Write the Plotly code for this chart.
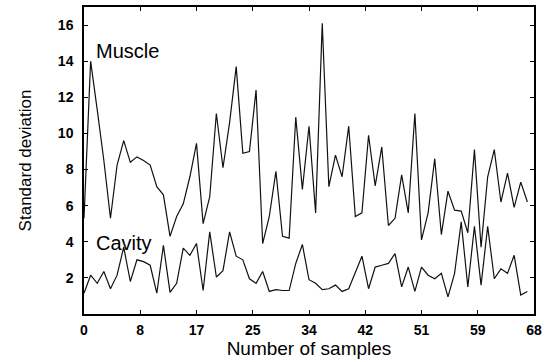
import plotly.graph_objects as go

samples = list(range(68))
muscle = [5.3, 14.0, 11.3, 8.5, 5.3, 8.25, 9.6, 8.4, 8.7, 8.5,
          8.25, 7.05, 6.6, 4.3, 5.4, 6.1, 7.6, 9.45, 5.0, 6.5,
          11.1, 8.1, 10.6, 13.7, 8.9, 9.0, 12.4, 3.9, 5.4, 7.9,
          4.3, 4.2, 10.9, 6.9, 10.4, 5.6, 16.1, 7.05, 8.8, 7.6,
          10.4, 5.4, 5.6, 9.9, 7.1, 9.25, 4.9, 5.3, 7.7, 5.6,
          11.1, 4.1, 5.6, 8.6, 4.4, 6.8, 5.75, 5.7, 4.5, 9.1,
          3.7, 7.6, 9.1, 6.2, 7.8, 5.9, 7.3, 6.2]
cavity = [1.15, 2.15, 1.7, 2.35, 1.4, 2.15, 3.7, 1.8, 3.0, 2.9,
          2.7, 1.15, 3.8, 1.2, 1.7, 3.65, 3.25, 3.9, 1.3, 4.55,
          2.05, 2.4, 4.55, 3.2, 3.0, 1.95, 1.7, 2.35, 1.25, 1.35,
          1.3, 1.3, 2.8, 3.85, 1.9, 1.7, 1.35, 1.4, 1.6, 1.25,
          1.4, 2.25, 3.2, 1.4, 2.6, 2.7, 2.8, 3.35, 1.5, 2.6,
          1.25, 2.6, 2.15, 1.95, 2.25, 0.95, 2.25, 5.1, 1.5, 4.85,
          1.6, 4.85, 1.95, 2.5, 2.25, 3.25, 1.05, 1.25]

x_tickvals = [0, 8.5, 17, 25.5, 34, 42.5, 51, 59.5, 68]
x_ticktext = ["0", "8", "17", "25", "34", "42", "51", "59", "68"]
y_tickvals = [2, 4, 6, 8, 10, 12, 14, 16]

fig = go.Figure()
for name, vals in [("Muscle", muscle), ("Cavity", cavity)]:
    fig.add_trace(go.Scatter(x=samples, y=vals, mode="lines", name=name,
                             line=dict(color="#111111", width=1.2),
                             showlegend=False, hoverinfo="skip"))

font_main = "Liberation Sans, Arial, sans-serif"
fig.add_annotation(x=1.45, y=14.55, text="Muscle", showarrow=False, xanchor="left", yanchor="middle",
                   font=dict(family=font_main, size=20, color="#000"))
fig.add_annotation(x=1.45, y=3.95, text="Cavity", showarrow=False, xanchor="left", yanchor="middle",
                   font=dict(family=font_main, size=20, color="#000"))

axis_common = dict(showline=True, linecolor="#000", linewidth=1.5, mirror="ticks",
                   ticks="inside", ticklen=4, tickcolor="#000", showgrid=False,
                   zeroline=False, automargin=False,
                   tickfont=dict(family=font_main, size=14, color="#000", weight="bold"))
fig.update_xaxes(range=[0, 68], tickmode="array", tickvals=x_tickvals, ticktext=x_ticktext,
                 ticklabelstandoff=2,
                 title=dict(text="Number of samples", font=dict(family=font_main, size=19, color="#000"), standoff=3),
                 **axis_common)
fig.update_yaxes(range=[0, 17], tickmode="array", tickvals=y_tickvals,
                 ticklabelstandoff=6,
                 title=dict(text="Standard deviation", font=dict(family=font_main, size=17, color="#000"), standoff=22),
                 **axis_common)
fig.update_layout(width=547, height=362, margin=dict(l=84, r=13, t=7, b=48, autoexpand=False),
                  plot_bgcolor="white", paper_bgcolor="white")
fig.write_html("out.html", config={"displayModeBar": False},
               post_script="document.body.style.margin='0px';")
